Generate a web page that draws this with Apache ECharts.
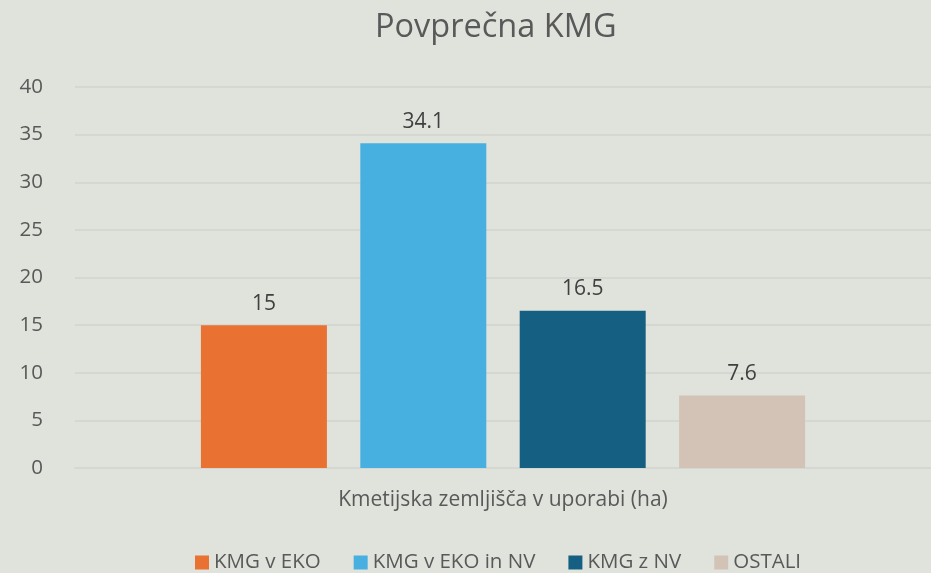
<!DOCTYPE html>
<html><head><meta charset="utf-8">
<script src="https://cdn.jsdelivr.net/npm/echarts@6/dist/echarts.min.js"></script>
<style>html,body{margin:0;padding:0;background:#DFE3DC;}#c{width:931px;height:573px;}</style>
</head><body><div id="c"></div>
<script>
const title = 'Povprečna KMG';
const categories = ['Kmetijska zemljišča v uporabi (ha)'];
const seriesNames = ['KMG v EKO', 'KMG v EKO in NV', 'KMG z NV', 'OSTALI'];
const seriesValues = [[15], [34.1], [16.5], [7.6]];
const seriesColors = ['#E97132', '#47B0E0', '#156082', '#D3C3B6'];
const yTicks = [0, 5, 10, 15, 20, 25, 30, 35, 40];

const FONT = '"Open Sans", "Noto Sans", sans-serif';
const chart = echarts.init(document.getElementById('c'));
chart.setOption({
  backgroundColor: '#DFE3DC',
  animation: false,
  title: {
    text: title, left: 370, top: 6,
    textStyle: { fontFamily: FONT, fontSize: 32.5, fontWeight: 'normal', color: '#595959' }
  },
  legend: {
    bottom: -5, left: 190, itemWidth: 14, itemHeight: 14, itemGap: 33,
    icon: 'rect',
    textStyle: { fontFamily: FONT, fontSize: 20.5, color: '#595959' },
    data: seriesNames
  },
  grid: { left: 75, right: 0, top: 87, bottom: 105, containLabel: false },
  xAxis: {
    type: 'category', data: categories,
    axisTick: { show: false },
    axisLine: { lineStyle: { color: '#D5D7D3', width: 2 } },
    axisLabel: { fontFamily: FONT, fontSize: 21, color: '#595959', margin: 22 }
  },
  yAxis: {
    type: 'value', min: yTicks[0], max: yTicks[yTicks.length - 1], interval: 5,
    axisLine: { show: false }, axisTick: { show: false },
    splitLine: { lineStyle: { color: '#D5D7D3', width: 2 } },
    axisLabel: { fontFamily: FONT, fontSize: 20.5, color: '#595959', margin: 32 }
  },
  series: seriesNames.map((n, i) => ({
    name: n, type: 'bar', data: seriesValues[i],
    barWidth: 126, barGap: '26.5%',
    itemStyle: { color: seriesColors[i] },
    label: { show: true, position: 'top', distance: 11, fontFamily: FONT, fontSize: 21, color: '#404040' }
  }))
});
</script></body></html>
